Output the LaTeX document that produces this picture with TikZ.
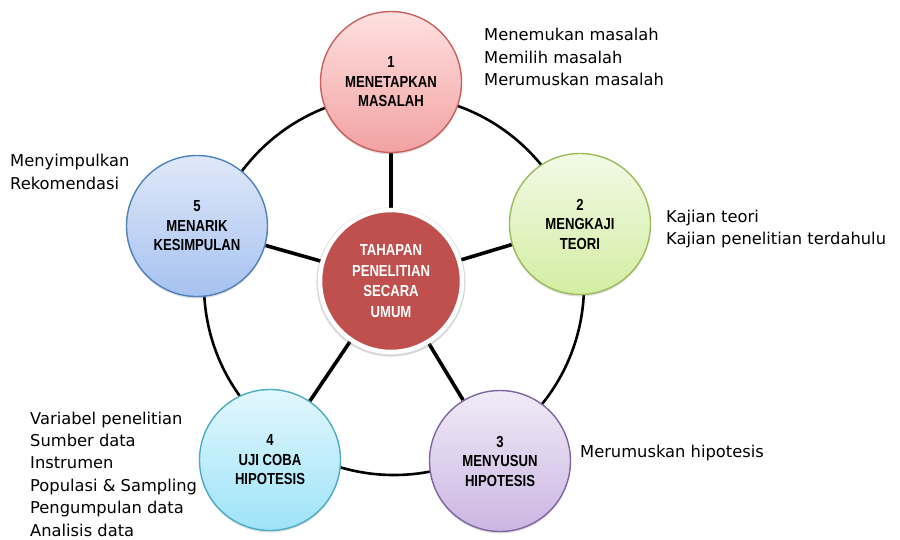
\documentclass[tikz,border=0pt]{standalone}
\usepackage{fontspec}
\usepackage{xcolor}
\usepackage{tikz}
\usetikzlibrary{backgrounds,shadows}
\setmainfont{DejaVu Sans}
\newfontfamily\stagefont[FakeStretch=0.82]{Liberation Sans}
\definecolor{onetop}{HTML}{FFE0E0}
\definecolor{onebot}{HTML}{F2A2A2}
\definecolor{oneline}{HTML}{C9605C}
\definecolor{twotop}{HTML}{F2FAE6}
\definecolor{twobot}{HTML}{D3EDA2}
\definecolor{twoline}{HTML}{9BBB59}
\definecolor{thrtop}{HTML}{F0EBF7}
\definecolor{thrbot}{HTML}{CBB6E2}
\definecolor{thrline}{HTML}{8064A2}
\definecolor{fourtop}{HTML}{E2F7FD}
\definecolor{fourbot}{HTML}{9EE3F8}
\definecolor{fourline}{HTML}{4BACC6}
\definecolor{fivetop}{HTML}{DFE8F9}
\definecolor{fivebot}{HTML}{A6C2F0}
\definecolor{fiveline}{HTML}{4F81BD}
\definecolor{hubred}{HTML}{C0504D}

\begin{document}
\begin{tikzpicture}[x = 1pt, y = -1pt,
        stage/.style = {circle, draw, line width = 1.4pt, minimum size = 141pt, inner sep = 0pt, align = center,
            font = \stagefont\bfseries\fontsize{16}{19.5}\selectfont,
            drop shadow = {shadow xshift = 0pt, shadow yshift = -2pt, opacity = 0.25}},
        spoke/.style = {line width = 3.6pt},
        ring/.style = {line width = 2.6pt},
        note/.style = {anchor = west, align = left, inner sep = 0pt, text = black,
            font = \fontsize{16.3}{22.4}\selectfont}]
        \useasboundingbox (0, 0) rectangle (900, 539);
        \node (hub) at (391, 281) [circle, fill = hubred, draw = white, line width = 4.5pt, minimum size = 142pt, inner sep = 0pt,
            align = center, text = white, font = \stagefont\bfseries\fontsize{16}{20.5}\selectfont,
            drop shadow = {shadow xshift = 0pt, shadow yshift = -1pt, shadow scale = 1.05, opacity = 0.3}] {TAHAPAN\\PENELITIAN\\SECARA\\UMUM};
        \node (s1) at (391, 82) [stage, top color = onetop, bottom color = onebot, draw = oneline] {1\\MENETAPKAN\\MASALAH};
        \node (s2) at (580, 224) [stage, top color = twotop, bottom color = twobot, draw = twoline] {2\\MENGKAJI\\TEORI};
        \node (s3) at (500, 461) [stage, top color = thrtop, bottom color = thrbot, draw = thrline] {3\\MENYUSUN\\HIPOTESIS};
        \node (s4) at (270, 460) [stage, top color = fourtop, bottom color = fourbot, draw = fourline] {4\\UJI COBA\\HIPOTESIS};
        \node (s5) at (197, 226) [stage, top color = fivetop, bottom color = fivebot, draw = fiveline] {5\\MENARIK\\KESIMPULAN};
        \coordinate (rc) at (394, 285);
        \begin{scope}[on background layer]
            \draw [ring] (rc) circle [radius = 190pt];
            \draw [spoke] (hub) edge (s1);
            \draw [spoke] (hub) edge (s2);
            \draw [spoke] (hub) edge (s3);
            \draw [spoke] (hub) edge (s4);
            \draw [spoke] (hub) edge (s5);
        \end{scope}
        \node (n1) at (484, 57) [note] {Menemukan masalah\\Memilih masalah\\Merumuskan masalah};
        \node (n2) at (666, 229) [note] {Kajian teori\\Kajian penelitian terdahulu};
        \node (n3) at (580, 453) [note] {Merumuskan hipotesis};
        \node (n4) at (30, 474) [note] {Variabel penelitian\\Sumber data\\Instrumen\\Populasi \& Sampling\\Pengumpulan data\\Analisis data};
        \node (n5) at (10, 172) [note] {Menyimpulkan\\Rekomendasi};
    \end{tikzpicture}
\end{document}
